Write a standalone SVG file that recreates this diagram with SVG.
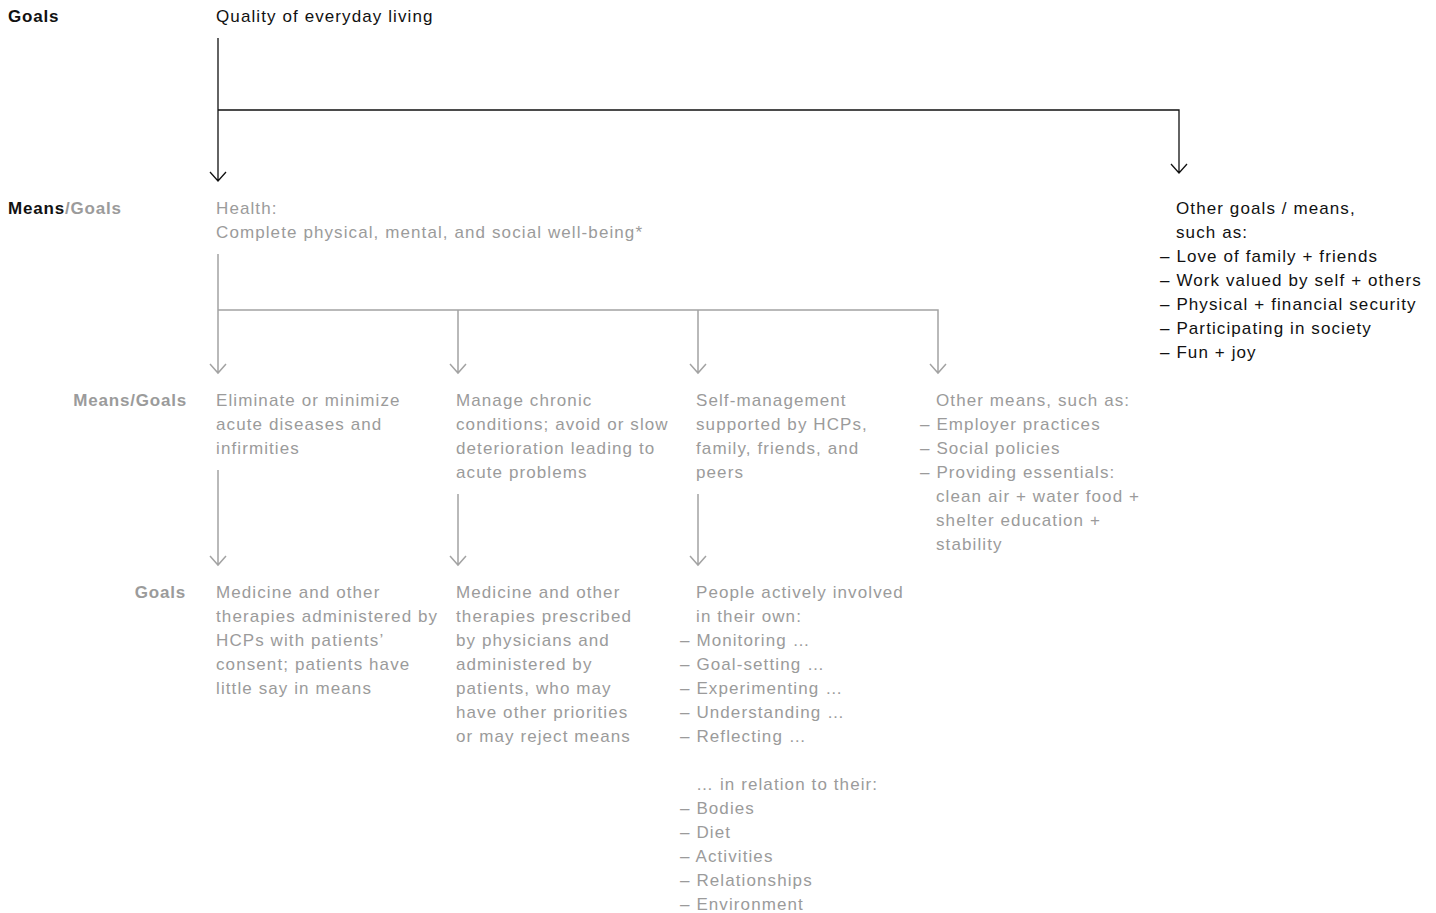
<svg xmlns="http://www.w3.org/2000/svg" width="1436" height="913" viewBox="0 0 1436 913">
<style>
text{font-family:"Liberation Sans",Arial,sans-serif;font-size:17px;letter-spacing:1.1px;}
.k{fill:#111;}
.g{fill:#9b9b9b;}
.b{font-weight:bold;letter-spacing:0.8px;}
.r{text-anchor:end;}
.lk{stroke:#111;stroke-width:1.3;fill:none;}
.lg{stroke:#a3a3a3;stroke-width:1.5;fill:none;}
</style>
<rect width="1436" height="913" fill="#fff"/>
<g id="connectors">
<path class="lk" d="M218,38 V181 M210,172 L218,181 L226,172"/>
<path class="lk" d="M218,110 H1179 V173 M1171,164 L1179,173 L1187,164"/>
<path class="lg" d="M218,254 V373 M210,364 L218,373 L226,364"/>
<path class="lg" d="M218,310 H938 V373 M930,364 L938,373 L946,364"/>
<path class="lg" d="M458,310 V373 M450,364 L458,373 L466,364"/>
<path class="lg" d="M698,310 V373 M690,364 L698,373 L706,364"/>
<path class="lg" d="M218,470 V565 M210,556 L218,565 L226,556"/>
<path class="lg" d="M458,494 V565 M450,556 L458,565 L466,556"/>
<path class="lg" d="M698,494 V565 M690,556 L698,565 L706,556"/>
</g>
<g id="labels">
<text x="8" y="22" class="k b">Goals</text>
<text x="8" y="214" class="b"><tspan class="k">Means</tspan><tspan class="g">/Goals</tspan></text>
<text x="187" y="406" class="g b r">Means/Goals</text>
<text x="186" y="598" class="g b r">Goals</text>
</g>
<g id="n-quality"><text x="216" y="22" class="k">Quality of everyday living</text></g>
<g id="n-health">
<text x="216" y="214" class="g">Health:</text>
<text x="216" y="238" class="g">Complete physical, mental, and social well-being*</text>
</g>
<g id="n-other-goals" class="k">
<text x="1176" y="214" class="k">Other goals / means,</text>
<text x="1176" y="238" class="k">such as:</text>
<text x="1160" y="262" class="k">– Love of family + friends</text>
<text x="1160" y="286" class="k">– Work valued by self + others</text>
<text x="1160" y="310" class="k">– Physical + financial security</text>
<text x="1160" y="334" class="k">– Participating in society</text>
<text x="1160" y="358" class="k">– Fun + joy</text>
</g>
<g id="n-eliminate">
<text x="216" y="406" class="g">Eliminate or minimize</text>
<text x="216" y="430" class="g">acute diseases and</text>
<text x="216" y="454" class="g">infirmities</text>
</g>
<g id="n-manage">
<text x="456" y="406" class="g">Manage chronic</text>
<text x="456" y="430" class="g">conditions; avoid or slow</text>
<text x="456" y="454" class="g">deterioration leading to</text>
<text x="456" y="478" class="g">acute problems</text>
</g>
<g id="n-self">
<text x="696" y="406" class="g">Self-management</text>
<text x="696" y="430" class="g">supported by HCPs,</text>
<text x="696" y="454" class="g">family, friends, and</text>
<text x="696" y="478" class="g">peers</text>
</g>
<g id="n-othermeans">
<text x="936" y="406" class="g">Other means, such as:</text>
<text x="920" y="430" class="g">– Employer practices</text>
<text x="920" y="454" class="g">– Social policies</text>
<text x="920" y="478" class="g">– Providing essentials:</text>
<text x="936" y="502" class="g">clean air + water food +</text>
<text x="936" y="526" class="g">shelter education +</text>
<text x="936" y="550" class="g">stability</text>
</g>
<g id="n-medicine1">
<text x="216" y="598" class="g">Medicine and other</text>
<text x="216" y="622" class="g">therapies administered by</text>
<text x="216" y="646" class="g">HCPs with patients’</text>
<text x="216" y="670" class="g">consent; patients have</text>
<text x="216" y="694" class="g">little say in means</text>
</g>
<g id="n-medicine2">
<text x="456" y="598" class="g">Medicine and other</text>
<text x="456" y="622" class="g">therapies prescribed</text>
<text x="456" y="646" class="g">by physicians and</text>
<text x="456" y="670" class="g">administered by</text>
<text x="456" y="694" class="g">patients, who may</text>
<text x="456" y="718" class="g">have other priorities</text>
<text x="456" y="742" class="g">or may reject means</text>
</g>
<g id="n-people">
<text x="696" y="598" class="g">People actively involved</text>
<text x="696" y="622" class="g">in their own:</text>
<text x="680" y="646" class="g">– Monitoring …</text>
<text x="680" y="670" class="g">– Goal-setting …</text>
<text x="680" y="694" class="g">– Experimenting …</text>
<text x="680" y="718" class="g">– Understanding …</text>
<text x="680" y="742" class="g">– Reflecting …</text>
<text x="696" y="790" class="g">… in relation to their:</text>
<text x="680" y="814" class="g">– Bodies</text>
<text x="680" y="838" class="g">– Diet</text>
<text x="680" y="862" class="g">– Activities</text>
<text x="680" y="886" class="g">– Relationships</text>
<text x="680" y="910" class="g">– Environment</text>
</g>
</svg>
